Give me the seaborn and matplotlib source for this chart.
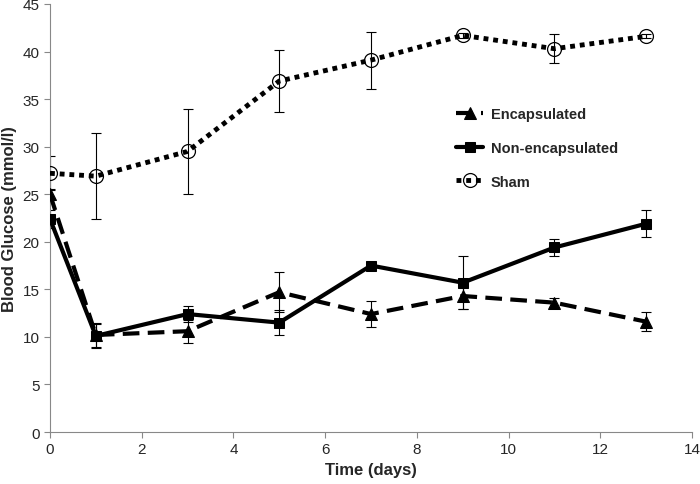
import pandas as pd
import seaborn as sns
import matplotlib.pyplot as plt

# Time points (days)
days = [0, 1, 3, 5, 7, 9, 11, 13]

# Mean blood glucose (mmol/l) and error bars per group
encapsulated = [25.0, 10.2, 10.6, 14.7, 12.4, 14.3, 13.6, 11.6]
encapsulated_err = [0.5, 1.3, 1.2, 2.1, 1.35, 1.4, 0.5, 1.0]

non_encapsulated = [22.4, 10.1, 12.4, 11.5, 17.5, 15.7, 19.4, 21.9]
non_encapsulated_err = [0.9, 1.25, 0.85, 1.3, 0.3, 2.8, 0.9, 1.4]

sham = [27.2, 26.9, 29.5, 36.9, 39.1, 41.7, 40.3, 41.6]
sham_err = [1.8, 4.5, 4.5, 3.3, 3.0, 0.3, 1.5, 0.2]

sns.set_style("white")
plt.rcParams['font.family'] = ['Liberation Sans', 'DejaVu Sans']

fig = plt.figure(figsize=(7, 4.85), dpi=100)
ax = fig.add_axes([0.0714, 0.1072, 0.9172, 0.8825])

# Error bars first so the lines sit on top
for vals, errs in [(sham, sham_err), (encapsulated, encapsulated_err),
                   (non_encapsulated, non_encapsulated_err)]:
    ax.errorbar(days, vals, yerr=errs, fmt='none', ecolor='black',
                elinewidth=0.8, capsize=3.5, capthick=0.8, zorder=2)

df_enc = pd.DataFrame({'day': days, 'glucose': encapsulated})
df_non = pd.DataFrame({'day': days, 'glucose': non_encapsulated})
df_sham = pd.DataFrame({'day': days, 'glucose': sham})

sns.lineplot(data=df_enc, x='day', y='glucose', ax=ax, color='black',
             linewidth=3, marker='^', markersize=8, markeredgecolor='black',
             label='Encapsulated', zorder=3)
ax.lines[-1].set_dashes([4, 2])

sns.lineplot(data=df_non, x='day', y='glucose', ax=ax, color='black',
             linewidth=3, marker='s', markersize=7.5, markeredgecolor='black',
             label='Non-encapsulated', zorder=3)

sns.lineplot(data=df_sham, x='day', y='glucose', ax=ax, color='black',
             linewidth=3.5, marker='o', markersize=10, markerfacecolor='none',
             markeredgecolor='black', markeredgewidth=0.9,
             label='Sham', zorder=3)
ax.lines[-1].set_dashes([1, 1])

ax.set_xlim(0, 14)
ax.set_ylim(0, 45)
ax.set_xticks(range(0, 15, 2))
ax.set_yticks(range(0, 46, 5))
ax.tick_params(axis='both', labelsize=11, length=4, width=0.8,
               color='#888888', direction='out', bottom=True, left=True)
for side in ['top', 'right']:
    ax.spines[side].set_visible(False)
for side in ['left', 'bottom']:
    ax.spines[side].set_color('#888888')
    ax.spines[side].set_linewidth(0.8)

ax.set_xlabel('Time (days)', fontsize=12, fontweight='bold')
ax.set_ylabel('Blood Glucose (mmol/l)', fontsize=12, fontweight='bold')

leg = ax.legend(loc='upper left', bbox_to_anchor=(0.632, 0.759), frameon=False,
                fontsize=10.5, handlelength=1.9, labelspacing=1.35,
                handletextpad=0.5, borderpad=0, borderaxespad=0)
for t in leg.get_texts():
    t.set_fontweight('bold')

fig.savefig('out.png', dpi=100)
